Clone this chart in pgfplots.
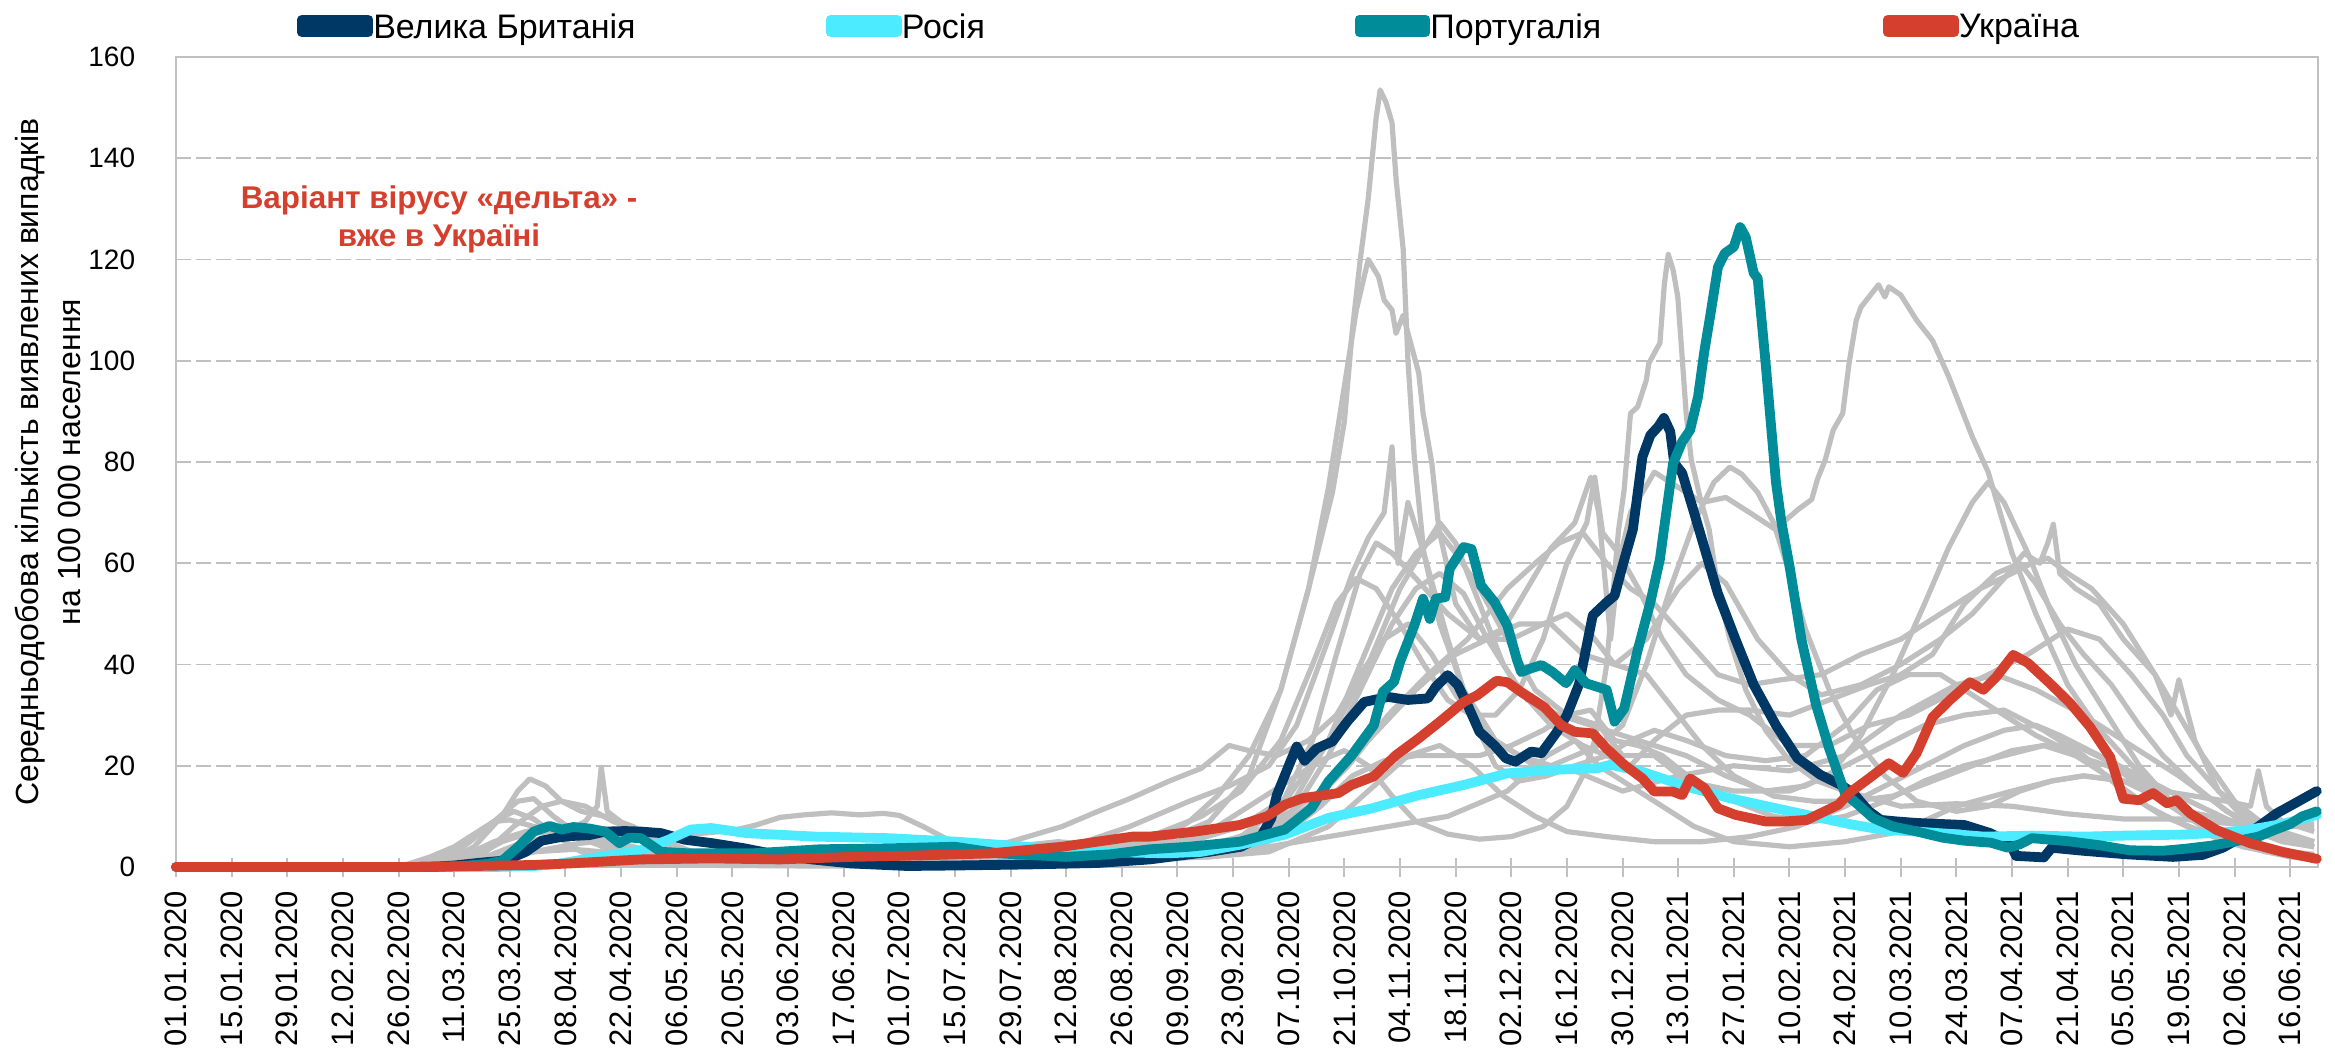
\documentclass[border=0pt]{standalone}
\usepackage{fontspec}
\setmainfont{Liberation Sans}
\usepackage{pgfplots}
\pgfplotsset{compat=1.18}
\definecolor{cuk}{HTML}{003865}
\definecolor{cru}{HTML}{4CEBFF}
\definecolor{cpt}{HTML}{008C99}
\definecolor{cua}{HTML}{D53F2E}
\definecolor{cgrey}{HTML}{BFBFBF}
\definecolor{cgrid}{HTML}{C0C0C0}
\begin{document}
\begin{tikzpicture}
\begin{axis}[
 scale only axis, width=1071pt, height=405pt,
 xmin=0, xmax=539, ymin=0, ymax=160,
 clip=false,
 axis line style={draw=cgrid, line width=1.3pt},
 tick pos=left,
 xtick={0,14,...,532},
 xticklabels={01.01.2020,15.01.2020,29.01.2020,12.02.2020,26.02.2020,11.03.2020,25.03.2020,08.04.2020,22.04.2020,06.05.2020,20.05.2020,03.06.2020,17.06.2020,01.07.2020,15.07.2020,29.07.2020,12.08.2020,26.08.2020,09.09.2020,23.09.2020,07.10.2020,21.10.2020,04.11.2020,18.11.2020,02.12.2020,16.12.2020,30.12.2020,13.01.2021,27.01.2021,10.02.2021,24.02.2021,10.03.2021,24.03.2021,07.04.2021,21.04.2021,05.05.2021,19.05.2021,02.06.2021,16.06.2021},
 x tick label style={yshift=-7pt, rotate=90, anchor=east, inner sep=0pt, font=\fontsize{15.5}{16}\selectfont},
 tick align=center, major tick length=9.5pt,
 xtick style={draw=cgrid, line width=1pt},
 ytick={0,20,...,160}, ytick style={draw=none},
 y tick label style={font=\fontsize{14}{16}\selectfont, inner sep=0pt, anchor=east, xshift=-15.5pt},
 /pgf/number format/assume math mode=true,
 ymajorgrids, grid style={draw=cgrid, line width=0.8pt, dash pattern=on 7.5pt off 2.5pt},
 ylabel={Середньодобова кількість виявлених випадків\\на 100 000 населення},
 ylabel style={at={(axis description cs:-0.0752,0.5)}, anchor=north, inner sep=0pt, align=center, font=\fontsize{16}{21}\selectfont},
 legend columns=4,
 legend style={at={(axis description cs:0.0567,1.0383)}, anchor=west, draw=none, fill=none, inner sep=0pt, outer sep=0pt, font=\fontsize{17}{19}\selectfont, nodes={inner sep=0pt, text depth=0pt}, /tikz/every even column/.append style={column sep=0pt}, /tikz/every odd column/.append style={column sep=0pt}},
 legend image code/.code={\path (-3.25pt,-3.25pt) rectangle (29.75pt,3.25pt); \draw[#1, line width=6.5pt, line cap=round] (0pt,0pt) -- (26.5pt,0pt);},
 gr/.style={cgrey, line width=2.6pt, line join=round, forget plot},
 hl/.style={line width=4.9pt, line join=round, line cap=round},
]
% grey comparison countries
\addplot[gr] coordinates {(0,0) (62,0) (70,0.8) (78,3) (85,8) (92,12) (97,13) (103,12) (110,9) (120,6) (130,3) (145,1.5) (170,0.8) (190,1.5) (210,4) (222,5) (235,4) (248,5) (260,9) (270,18) (278,35) (285,55) (291,74) (294,88) (296,106) (298,120) (300,132) (302,148) (303,153.5) (304.5,151) (306,147) (307,136) (308.8,122) (310,100) (311.6,81) (314,62) (318,48) (324,35) (332,25) (342,20) (352,19) (364,15) (378,18) (392,20) (406,19) (420,22) (434,30) (448,36) (458,38) (468,35) (480,30) (490,25) (504,18) (518,10) (532,6) (538,5)};
\addplot[gr] coordinates {(0,0) (70,0) (80,0.5) (95,1) (120,0.7) (160,0.3) (200,1) (230,2) (245,4) (255,9) (262,14) (270,22) (278,35) (285,55) (290,75) (294,95) (297,110) (300,120) (302.6,116.6) (304,112) (306,110) (307,105.4) (308.8,109) (310.5,104) (312.7,97.6) (313.8,89.7) (316,79.8) (317.8,66.6) (322,52) (328,45) (334,47) (340,55) (346,63) (352,68) (356,77) (358,70) (361,45) (363,60) (366,70) (372,78) (378,75) (384,72) (390,73) (396,70) (402.6,66.6) (405,68.5) (408.3,70.7) (411.6,72.6) (413,76.5) (415,80.4) (417,86.3) (419.4,89.6) (421,99.5) (422.8,108) (424,110.6) (428.4,115) (430,112.6) (431,114.6) (434,113) (438,108) (442,104) (446,97) (448,93) (452,85) (456,78) (462,62) (468,50) (476,36) (483,28) (490,22) (497,16) (504,11) (511,8) (518,6) (525,4) (532,3) (538,2.5)};
\addplot[gr] coordinates {(0,0) (62,0) (68,1) (75,4) (82,10) (86,15) (89,17.4) (93,16) (97,13) (102,11) (108,10) (115,8) (122,5) (130,3) (140,1.5) (160,0.8) (180,1) (195,2.5) (210,5) (223,8) (232,11) (240,13.5) (250,17) (258,19.5) (265,24) (270,23) (277,22) (285,25) (292,30) (298,38) (304,45) (310,48) (316,42) (322,34) (330,26) (338,22) (346,20) (352,22) (358,24) (364,28) (370,40) (376,55) (382,68) (387,76) (391,79) (394,77.6) (398,74) (402,68) (406,58) (410,47) (416,35) (422,26) (430,18) (438,13) (448,11) (456,12) (464,15) (472,17) (480,18) (490,17) (498,14) (506,11) (518,9) (532,8.5) (538,8.5)};
\addplot[gr] coordinates {(0,0) (70,0) (78,1) (85,3) (92,5) (98,7) (103,9) (106,12) (107,19.7) (108.5,11) (111,9.5) (115,7) (120,4.5) (128,2.5) (140,1) (160,0.4) (190,0.5) (210,1.2) (225,2) (240,4) (252,5) (262,8) (272,13) (280,17) (288,21) (294,23) (300,20) (306,14) (312,9) (320,6.5) (328,5.5) (336,6) (344,8) (350,12) (354,18) (357,25) (360,40) (363,66.6) (364.4,74.5) (366,89.6) (367.8,90.9) (370,96.2) (370.6,99.5) (372,101.5) (373.4,103.5) (374.5,115) (375.5,121) (376.7,118) (377.9,112.6) (379,100.7) (380,89.6) (381.3,80.4) (383.5,73) (385.8,66.6) (388,55) (391,45) (395,35) (400,27) (406,21) (413,17) (420,15) (434,12) (448,12.5) (462,12) (476,10.5) (490,9.5) (504,9.5) (518,8.5) (532,8) (538,8)};
\addplot[gr] coordinates {(0,0) (70,0) (90,0.3) (110,0.8) (140,1) (170,1) (200,1.3) (220,2) (240,2) (255,2.5) (265,3.5) (275,8) (282,14) (290,25) (298,40) (306,55) (312,62) (318,66) (322,62) (328,55) (335,45) (342,35) (350,30) (358,28) (364,22) (372,22) (380,17) (392,15) (406,15) (416,18) (424,26) (432,38) (440,52) (446,63) (452,72) (456,76) (460,72) (466,62) (472,50) (478,40) (486,30) (494,20) (502,13) (510,9) (518,5) (528,3) (538,2)};
\addplot[gr] coordinates {(0,0) (55,0) (65,0.5) (72,2) (80,5) (88,7) (96,8) (103,6) (110,4) (120,2) (135,1) (160,0.8) (190,0.8) (210,1.5) (225,4) (240,8) (255,13) (265,16) (275,20) (282,28) (290,45) (296,58) (300,65) (304,70) (306,83) (307.5,60) (310,72) (314,62) (320,45) (326,30) (332,20) (338,17) (345,18) (352,20) (360,22) (366,20) (372,25) (380,30) (388,31) (396,31) (406,30) (416,33) (426,36) (434,38) (442,42) (450,52) (458,58) (464,60) (468,56) (474,48) (480,42) (487,36) (494,28) (500,22) (508,16) (516,11) (524,8) (532,5) (538,4)};
\addplot[gr] coordinates {(0,0) (52,0) (58,0.5) (64,2) (70,4) (76,7) (80,9) (84,9.3) (90,8) (96,7) (104,5.5) (112,4.5) (120,3) (130,2) (145,1) (170,0.4) (200,0.4) (220,0.8) (235,1.8) (250,2.5) (262,3) (272,5) (282,12) (290,22) (298,35) (306,48) (312,55) (318,58) (324,54) (330,45) (338,35) (346,28) (354,24) (360,22) (366,25) (372,27) (380,25) (390,22) (400,21) (410,22) (420,28) (428,35) (436,38) (444,38) (452,34) (460,30) (468,26) (476,23) (486,18) (496,12) (506,8) (516,5) (526,3) (538,1.5)};
\addplot[gr] coordinates {(0,0) (62,0) (70,0.5) (78,2) (86,4.5) (94,6) (102,6.5) (110,5) (120,3) (130,1.5) (150,0.5) (180,0.4) (200,1) (215,2.5) (230,3.5) (245,6) (258,10) (268,15) (278,25) (286,40) (292,52) (297,57) (302,55) (308,48) (314,40) (320,33) (326,30) (332,30) (338,35) (344,45) (350,60) (355,68) (357,77) (359,66) (363,62) (368,55) (374,45) (380,38) (388,33) (396,30) (406,24) (416,24) (426,28) (436,30) (446,34) (456,38) (466,42) (476,47) (484,45) (492,38) (500,30) (506,22) (514,15) (522,10) (530,7) (538,5)};
\addplot[gr] coordinates {(0,0) (58,0) (64,1) (72,4) (80,9) (86,13) (90,13.5) (95,10) (102,6) (110,3) (120,1.5) (140,0.3) (170,0.5) (195,1.5) (210,1.5) (225,2) (240,3) (255,3.5) (268,6) (278,12) (286,25) (292,42) (298,58) (302,64) (306,62) (312,57) (320,50) (328,45) (336,45) (344,48) (350,50) (356,46) (362,40) (370,38) (376,32) (384,24) (392,18) (402,14) (412,13) (422,13) (432,14) (442,17) (452,20) (462,23) (470,24) (478,22) (486,20) (494,17) (502,12) (510,8) (518,5) (528,3) (538,2)};
\addplot[gr] coordinates {(0,0) (62,0) (68,1.5) (74,5) (80,9) (85,11) (90,9.5) (96,6) (102,3) (110,1.5) (125,0.6) (150,0.4) (180,1) (200,1.3) (220,2) (240,3.5) (255,5) (268,8) (280,14) (290,25) (300,40) (308,55) (314,63) (318,68) (322,64) (328,52) (334,40) (340,33) (348,30) (356,28) (364,26) (372,24) (380,22) (390,18) (400,15) (410,16) (420,20) (430,24) (440,28) (450,30) (460,31) (470,27) (480,22) (490,15) (500,10) (510,7) (520,4) (530,2.5) (538,2)};
\addplot[gr] coordinates {(0,0) (65,0) (72,0.5) (80,1.5) (90,3) (100,4.5) (110,5.5) (120,6) (130,6.5) (140,7.2) (146,8.3) (152,9.8) (158,10.3) (165,10.7) (172,10.3) (178,10.6) (182,10.2) (188,8) (194,5.5) (200,3.5) (210,2) (225,2) (240,2.5) (255,3) (265,4.5) (275,7) (285,12) (295,20) (305,30) (315,38) (325,45) (335,55) (342,60) (348,64) (354,66) (360,60) (366,55) (372,52) (380,45) (388,38) (396,36) (404,37) (414,38) (424,42) (434,45) (444,50) (454,55) (462,58) (467,60) (471,61) (476,58) (482,55) (490,48) (498,38) (504,30) (510,22) (518,13) (526,8) (532,6) (538,5)};
\addplot[gr] coordinates {(0,0) (62,0) (68,0.5) (75,2) (82,5) (88,6.5) (94,7) (100,6) (106,4.5) (114,2.5) (125,1.2) (140,0.6) (170,0.4) (200,0.7) (220,1.5) (240,1.8) (255,2) (268,3) (278,6) (288,12) (296,18) (304,21) (312,22) (320,22) (328,22) (336,24) (344,27) (350,30) (356,31) (362,25) (368,24) (374,22) (382,17) (392,13) (402,10) (412,9) (420,10) (430,13) (440,17) (450,20) (460,22) (470,24) (478,24) (486,21) (494,16) (502,12) (510,8) (518,5) (526,3) (532,2) (538,1.5)};
\addplot[gr] coordinates {(0,0) (75,0) (90,0.5) (110,1) (140,0.5) (180,0.5) (210,1) (240,2.5) (260,4) (275,8) (288,15) (300,25) (312,35) (322,42) (330,45) (338,48) (346,48) (354,42) (362,40) (370,45) (378,55) (384,60) (390,56) (398,45) (406,38) (414,34) (424,36) (434,40) (444,45) (452,50) (460,57) (465,62) (469,60) (471,64) (472.4,67.7) (474,58) (478,55) (484,52) (490,45) (498,38) (502,30) (504,37) (508,25) (514,15) (520,10) (528,7) (534,5) (538,4)};
\addplot[gr] coordinates {(0,0) (70,0) (80,1) (90,3) (100,3.5) (110,2.8) (120,1.8) (140,0.8) (170,0.3) (200,0.5) (220,1) (240,1.5) (260,2) (275,4) (290,6) (305,8) (320,10) (335,15) (345,22) (352,25) (358,20) (366,16) (374,12) (382,8) (392,5) (406,4) (420,5) (434,7) (448,12) (462,15) (472,17) (480,18) (490,17) (500,15) (508,14) (516,13) (522,12) (524,19) (526,12) (530,9) (534,8) (538,7)};
\addplot[gr] coordinates {(0,0) (80,0) (95,0.5) (120,0.4) (160,0.2) (200,0.3) (220,0.8) (240,1.5) (260,2) (275,3) (290,8) (300,15) (310,22) (318,24) (326,20) (334,14) (342,10) (350,7) (360,6) (372,5) (384,5) (396,6) (408,8) (420,12) (430,16) (440,20) (450,24) (460,27) (468,28) (474,26) (484,22) (494,18) (504,14) (512,11) (520,8) (530,5) (538,4)};
% United Kingdom
\addplot[hl, cuk] coordinates {(0,0) (60,0) (66,0.1) (70,0.3) (76,0.8) (83,1.3) (88,3) (92,5.2) (96,5.8) (99,6.1) (104,6.3) (108,7) (113,7.1) (117,7) (122,6.7) (128,5.4) (135,4.7) (143,3.7) (152,2.3) (160,1.5) (170,0.7) (184,0.2) (196,0.3) (214,0.5) (232,0.8) (245,1.5) (252,2.2) (260,3) (268,4) (273,6) (275.6,9.6) (277,14.2) (280,20) (282,23.8) (284,21) (287,23.4) (291,24.8) (294.7,28.7) (299,32.6) (305,33.6) (310,33) (315,33.3) (317,35.6) (320,37.9) (322.5,36) (325,32) (328,26.7) (331.8,24) (334.6,21.5) (337,20.8) (341,22.8) (343.6,22.5) (347.5,26.7) (350,30) (353,36) (356.5,49.7) (360,52.3) (362,53.6) (364,59.5) (366.6,66.7) (369,81) (371,85.3) (373,87) (374.4,88.7) (376,86) (377,79.8) (379,77.8) (382,70) (385,62) (388,54) (392.4,45) (397,36) (402.6,28) (408,21.5) (413.8,18.2) (419,16.2) (422,14.6) (426,11) (429,9.3) (433,9) (438,8.7) (444,8.5) (450,8.3) (456.5,6.7) (461.5,4.7) (463,2.2) (470,1.9) (472,3.8) (480,3.2) (491,2.5) (502.5,2) (510,2.4) (515,3.8) (520,6) (524,8) (528.6,10.6) (533,12.5) (538.7,15)};
\addlegendentry{\makebox[226.4pt][l]{Велика Британія}}
% Russia
\addplot[hl, cru] coordinates {(0,0) (80,0) (90,0.2) (96,0.6) (106.5,2) (117,3.3) (124,5.4) (129.5,7.4) (134.7,7.7) (143.5,6.7) (161,6) (179,5.7) (196.5,5) (214,4) (232,3) (249.5,2.7) (258,3) (267.7,4.4) (279,6.4) (290,9.7) (301,11.6) (312.7,14.2) (324,16.2) (335,18.5) (346.4,19.2) (357.6,19.5) (361,20.2) (369,18.8) (380,15.9) (391,13.6) (402.6,11.6) (413.8,9.7) (421,8.5) (429,7.4) (438,7) (447,6.5) (455,6) (467,6.2) (480,6) (490,6.2) (505,6.4) (515,6.8) (520,7.2) (525,7.8) (530,8.5) (535,9.5) (538.7,10.3)};
\addlegendentry{\makebox[226.4pt][l]{Росія}}
% Portugal
\addplot[hl, cpt] coordinates {(0,0) (65,0) (72,0.2) (78,0.6) (82,1.2) (86,3.9) (90,7) (94,8.1) (97,7.4) (100,7.9) (104,7.6) (108,7) (111.6,4.7) (114,5.8) (117,5.7) (122,3) (129,2.7) (145,2.7) (162,3.5) (180,3.7) (196,4) (207,2.7) (224,2) (235,2.5) (245,3.5) (255,4) (267.7,5) (279,7.4) (285.7,11.6) (290,16.9) (295.8,22) (301.4,28) (303.7,34.6) (306.5,36.6) (308,40.5) (311.6,47.7) (313.8,53) (315.5,49) (317,53) (319.4,53.3) (320.5,58.9) (324,63.2) (326,62.8) (328.4,55.6) (331.8,52.3) (335,47.7) (337.4,41) (338.5,38.5) (340.8,39.2) (343.6,39.9) (346.4,38.5) (349.8,36.3) (352,38.9) (354.8,36.3) (360,35) (362,28.7) (364.4,31.3) (367.7,42.5) (371,52.3) (373.4,60.8) (374.4,66.6) (376.7,79.7) (379,84) (381,86.3) (383,92.9) (384.6,102) (386,108.6) (388,118.5) (389.7,121.2) (392,122.5) (393.6,126.4) (395,124.4) (397,117.3) (398,116.3) (400,99.5) (402.6,76) (404,68) (406,59.5) (409,45) (412.7,32) (416,23.4) (420,14.5) (423,12.5) (427,9.7) (432,8) (437.6,7.1) (444.5,5.8) (450,5.2) (456.7,4.8) (461,3.8) (464,4.5) (467,5.7) (470,5.5) (476,5.1) (484,4.3) (491.6,3.3) (500,3.2) (505.5,3.6) (512,4.2) (517.7,5) (524,6) (528,7.3) (532,8.5) (535,10) (538.7,11)};
\addlegendentry{\makebox[226.4pt][l]{Португалія}}
% Ukraine
\addplot[hl, cua] coordinates {(0,0) (60,0) (75,0.2) (90,0.4) (99,0.7) (117,1.5) (134.7,1.7) (152,1.5) (170,2) (187.7,2.3) (205,2.7) (223,4) (240.6,6) (245,6) (256.5,7) (267.7,8.3) (274.5,10) (279,12.3) (283.5,13.6) (292.5,14.6) (295.8,16.2) (301.4,17.9) (307,22.1) (312.7,25.4) (318,28.7) (324,32.6) (327.4,33.9) (332.3,36.8) (335,36.5) (338.6,34.5) (344.3,31.6) (348.6,28) (352,26.7) (356.5,26.4) (360,23.4) (364.4,20.2) (369,17.5) (372,14.9) (376.7,14.9) (379,14.2) (381,17.5) (384.6,15.6) (388,11.6) (392.4,10.3) (400,9) (404.8,9) (410.4,9.3) (413.8,10.6) (418.3,12.3) (421,14.6) (426,17.5) (431,20.5) (434.6,18.6) (438,22.5) (442,29.6) (446.4,33) (451.4,36.5) (454.8,35) (458,37.5) (462.3,41.9) (466,40.3) (471.5,36.3) (476.6,32.4) (481.6,27.7) (486.7,21.7) (490,13.5) (494,13.2) (497.5,14.6) (501,12.6) (503.4,13.2) (506.8,10.6) (513.5,7.3) (521.9,4.7) (530,3) (538.7,1.6)};
\addlegendentry{\makebox[226.4pt][l]{Україна}}
\node[text=cua, font=\bfseries\fontsize{15.7}{19}\selectfont, align=center] at (axis cs:66.2,128) {Варіант вірусу «дельта» -\\вже в Україні};
\coordinate (sw) at (rel axis cs:0,0);
\coordinate (ne) at (rel axis cs:1,1);
\end{axis}
\pgfresetboundingbox
\path[use as bounding box] ([shift={(-88pt,-91.5pt)}]sw) rectangle ([shift={(8.5pt,28.5pt)}]ne);
\end{tikzpicture}
\end{document}
